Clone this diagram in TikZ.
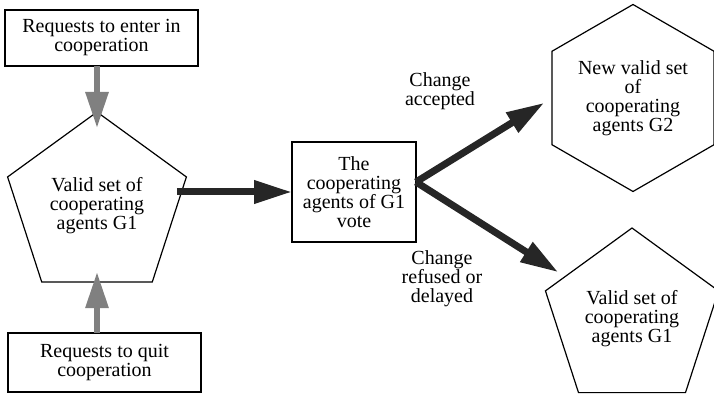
\documentclass[tikz,border=0pt]{standalone}
\usepackage{fontspec}
\setmainfont{Liberation Serif}
\usetikzlibrary{shapes.geometric,arrows.meta}

\begin{document}
\begin{tikzpicture}[x=0.5pt,y=-0.5pt,
  font=\fontsize{10}{9.5}\selectfont,
  box/.style={draw,line width=0.6pt,align=center,inner sep=0pt,outer sep=0pt},
  penta/.style={draw,line width=0.6pt,regular polygon,regular polygon sides=5,align=center,inner sep=0pt,outer sep=0pt},
  hexa/.style={draw,line width=0.6pt,regular polygon,regular polygon sides=6,shape border rotate=30,align=center,inner sep=0pt,outer sep=0pt},
  grayarrow/.style={draw=black!50,line width=3pt,-{Triangle[length=18pt,width=11pt]}},
  blackarrow/.style={draw=black!85,line width=3.5pt,-{Triangle[length=19pt,width=11pt]}},
  lbl/.style={align=center,inner sep=0pt}]
\useasboundingbox (0,0) rectangle (714,401);
% left column
\node[box,minimum width=96.5pt,minimum height=28pt] (enter) at (101.5,38) {Requests to enter in\\cooperation};
\node[penta,minimum size=94pt] (G1) at (97,206) {Valid set of\\cooperating\\agents G1};
\node[box,minimum width=96.5pt,minimum height=29.5pt] (quit) at (104.5,362.5) {Requests to quit\\cooperation};
% vote
\node[box,minimum width=62pt,minimum height=50pt] (vote) at (354,192) {The\\cooperating\\agents of G1\\vote};
% outcomes
\node[hexa,minimum size=93.5pt] (G2) at (633,98) {New valid set\\of\\cooperating\\agents G2};
\node[penta,minimum size=91pt] (G1b) at (632,319) {Valid set of\\cooperating\\agents G1};
\node[lbl] (acc) at (440,91) {Change\\accepted};
\node[lbl] (ref) at (442,279) {Change\\refused or\\delayed};
\coordinate (fork) at ([yshift=5pt]vote.east);

\draw[grayarrow,shorten >=-8pt] (enter.south -| G1) -- (G1.corner 1);
\draw[grayarrow,shorten >=-5pt] (quit.north -| G1) -- (G1.side 3);
\draw[blackarrow] (G1.east |- vote) -- (vote.west);
\draw[blackarrow,shorten >=4.5pt] (fork) -- (G2.west);
\draw[blackarrow,shorten >=4pt] (fork) -- (G1b);
\end{tikzpicture}
\end{document}
